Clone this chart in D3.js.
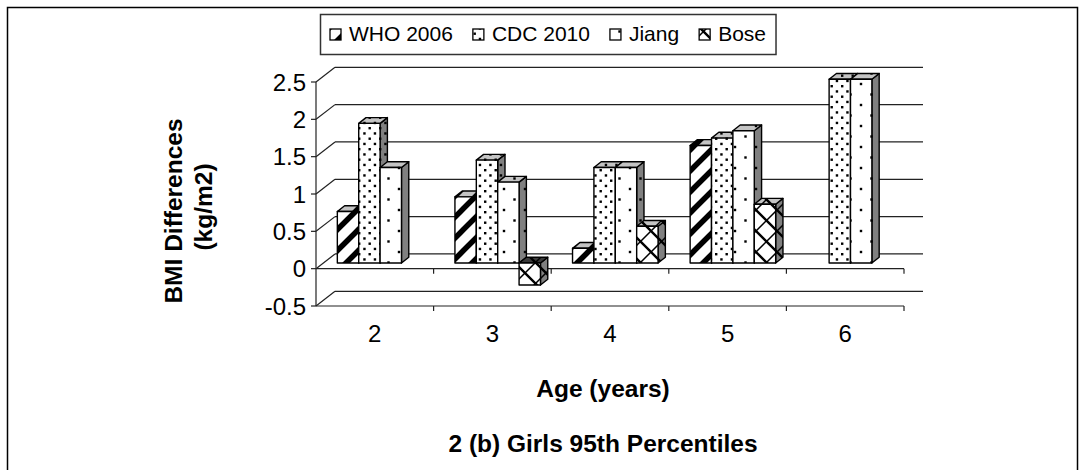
<!DOCTYPE html>
<html><head><meta charset="utf-8">
<script src="https://cdn.jsdelivr.net/npm/d3@7"></script>
<style>
html,body{margin:0;padding:0;background:#fff;}
svg{display:block;font-family:"Liberation Sans",Arial,Helvetica,sans-serif;}
</style>
</head><body>
<svg id="chart" width="1085" height="470"></svg>
<script>
// Age groups and BMI differences (kg/m2) at the 95th percentile, girls
const ages = ["2", "3", "4", "5", "6"];
const seriesNames = ["WHO 2006", "CDC 2010", "Jiang", "Bose"];
const who2006 = [0.7, 0.9, 0.2, 1.6, null];
const cdc2010 = [1.9, 1.4, 1.3, 1.7, 2.5];
const jiang   = [1.3, 1.1, 1.3, 1.8, 2.5];
const bose    = [null, -0.3, 0.5, 0.8, null];
const yTicks  = [-0.5, 0, 0.5, 1, 1.5, 2, 2.5];

const seriesValues = [who2006, cdc2010, jiang, bose];
const seriesKeys = ["who", "cdc", "jiang", "bose"];

const svg = d3.select("#chart");
const defs = svg.append("defs");

// ---- geometry of the 3-D box ----
const plotLeft = 316, plotRight = 904;
const wallDX = 19, wallDY = -14.7;          // depth of the walls/floor
const yAxis = d3.scaleLinear().domain([-0.5, 2.5]).range([306, 82]);
const yBar  = d3.scaleLinear().domain([0, 2.5]).range([263, 79.3]);
const xCat  = d3.scaleBand().domain(ages).range([plotLeft, plotRight]);
const xSer  = d3.scaleBand().domain(seriesNames).range([0, xCat.bandwidth()])
                .paddingInner(0).paddingOuter(0.75);
const barDX = 5.3;                          // bar front plane shift
const depthDX = 7.3, depthDY = -5.8;        // bar depth

// ---- fill patterns ----
const T = 21;
function pattern(id, bg, draw) {
  const p = defs.append("pattern").attr("id", id)
    .attr("patternUnits", "userSpaceOnUse").attr("width", T).attr("height", T);
  p.append("rect").attr("width", T).attr("height", T).attr("fill", bg);
  draw(p);
}
const drawers = {
  who: p => {
    let d = "";
    [0, T, 2 * T].forEach(c => { d += `M${-2},${c + 2}L${T + 2},${c - T - 2}`; });
    p.append("path").attr("d", d).attr("stroke", "#000").attr("stroke-width", 5.5).attr("fill", "none");
  },
  cdc: p => {
    const pts = [[1, 1], [11.5, 1], [6.25, 6.25], [16.75, 6.25], [1, 11.5], [11.5, 11.5], [6.25, 16.75], [16.75, 16.75]];
    pts.forEach(([x, y]) => p.append("rect").attr("x", x).attr("y", y).attr("width", 2.4).attr("height", 2.4).attr("fill", "#000"));
  },
  jiang: p => {
    [[-1.2, -1.2], [T - 1.2, -1.2], [-1.2, T - 1.2], [T - 1.2, T - 1.2], [T / 2 - 1.2, T / 2 - 1.2]]
      .forEach(([x, y]) => p.append("rect").attr("x", x).attr("y", y).attr("width", 2.4).attr("height", 2.4).attr("fill", "#000"));
  },
  bose: p => {
    let d1 = "", d2 = "";
    [-T, 0, T].forEach(c => { d1 += `M${c - 2},${-2}L${c + T + 2},${T + 2}`; });
    [0, T, 2 * T].forEach(c => { d2 += `M${-2},${c + 2}L${T + 2},${c - T - 2}`; });
    p.append("path").attr("d", d1).attr("stroke", "#000").attr("stroke-width", 2.4).attr("fill", "none");
    p.append("path").attr("d", d2).attr("stroke", "#000").attr("stroke-width", 1.5).attr("fill", "none");
  }
};
const faceBg = { front: "#ffffff", top: "#c4c4c4", side: "#808080", under: "#3a3a3a" };
seriesKeys.forEach(k => {
  Object.entries(faceBg).forEach(([face, bg]) => pattern(`${k}-${face}`, bg, drawers[k]));
});

// ---- outer frame ----
svg.append("rect").attr("x", 7.5).attr("y", 7.5).attr("width", 1070).attr("height", 480)
  .attr("fill", "none").attr("stroke", "#000").attr("stroke-width", 1.5);

// ---- walls, floor and gridlines ----
const grid = svg.append("g").attr("stroke", "#222").attr("stroke-width", 1.2).attr("fill", "none");
yTicks.forEach(v => {
  const yf = yAxis(v), yb = yf + wallDY;
  // back wall line
  grid.append("line").attr("x1", plotLeft + wallDX).attr("x2", plotRight + wallDX).attr("y1", yb).attr("y2", yb);
  // side wall diagonal
  grid.append("line").attr("x1", plotLeft).attr("y1", yf).attr("x2", plotLeft + wallDX).attr("y2", yb);
  // y-axis tick
  grid.append("line").attr("x1", plotLeft - 5).attr("x2", plotLeft).attr("y1", yf).attr("y2", yf);
});
// vertical value axis
grid.append("line").attr("x1", plotLeft).attr("x2", plotLeft).attr("y1", yAxis(2.5)).attr("y2", yAxis(-0.5));
// front edges of the category axis and of the floor, with tick marks
const catEdges = ages.map(a => xCat(a) + xCat.bandwidth());
[0, -0.5].forEach(v => {
  const y = yAxis(v);
  grid.append("line").attr("x1", plotLeft).attr("x2", plotRight).attr("y1", y).attr("y2", y);
  catEdges.forEach(x => grid.append("line").attr("x1", x).attr("x2", x).attr("y1", y).attr("y2", y + 5));
});

// ---- y tick labels ----
svg.append("g").selectAll("text").data(yTicks).join("text")
  .attr("x", 306).attr("y", d => yAxis(d)).attr("dy", "0.36em")
  .attr("text-anchor", "end").attr("font-size", 24).attr("fill", "#000")
  .text(d => String(d));

// ---- category labels ----
svg.append("g").selectAll("text").data(ages).join("text")
  .attr("x", d => xCat(d) + xCat.bandwidth() / 2).attr("y", 342)
  .attr("text-anchor", "middle").attr("font-size", 24).attr("fill", "#000")
  .text(d => d);

// ---- bars ----
const bars = svg.append("g").attr("stroke", "#000").attr("stroke-width", 1.4).attr("stroke-linejoin", "round");
const w = xSer.bandwidth();
ages.forEach((age, gi) => {
  seriesNames.forEach((name, si) => {
    const v = seriesValues[si][gi];
    if (v == null) return;
    const k = seriesKeys[si];
    const x0 = xCat(age) + xSer(name) + barDX, x1 = x0 + w;
    const yT = Math.min(yBar(v), yBar(0)), yB = Math.max(yBar(v), yBar(0));
    const g = bars.append("g");
    // side face
    g.append("polygon").attr("fill", `url(#${k}-side)`)
      .attr("points", [[x1, yT], [x1 + depthDX, yT + depthDY], [x1 + depthDX, yB + depthDY], [x1, yB]].join(" "));
    // top face
    g.append("polygon").attr("fill", `url(#${k}-${v < 0 ? "under" : "top"})`)
      .attr("points", [[x0, yT], [x0 + depthDX, yT + depthDY], [x1 + depthDX, yT + depthDY], [x1, yT]].join(" "));
    // front face
    g.append("rect").attr("x", x0).attr("y", yT).attr("width", w).attr("height", yB - yT)
      .attr("fill", `url(#${k}-front)`);
  });
});

// ---- legend ----
const legend = svg.append("g");
const legBox = legend.append("rect").attr("x", 320.5).attr("y", 14.5).attr("width", 455).attr("height", 40)
  .attr("fill", "#fff").attr("stroke", "#333").attr("stroke-width", 1.5);
let lx = 330;
seriesNames.forEach((name, i) => {
  legend.append("rect").attr("x", lx).attr("y", 29).attr("width", 11).attr("height", 11)
    .attr("fill", `url(#${seriesKeys[i]}-front)`).attr("stroke", "#000").attr("stroke-width", 1.3);
  const t = legend.append("text").attr("x", lx + 19).attr("y", 41.3)
    .attr("font-size", 21).attr("fill", "#000").text(name);
  lx += 19 + t.node().getComputedTextLength() + 20;
});
legBox.attr("width", lx - 20 + 10 - 320.5);

// ---- axis titles and chart title ----
svg.append("text").attr("transform", "translate(181.7,211) rotate(-90)")
  .attr("text-anchor", "middle").attr("font-size", 24.5).attr("font-weight", "bold").text("BMI Differences");
svg.append("text").attr("transform", "translate(211.5,207) rotate(-90)")
  .attr("text-anchor", "middle").attr("font-size", 24.5).attr("font-weight", "bold").text("(kg/m2)");
svg.append("text").attr("x", 603).attr("y", 397).attr("text-anchor", "middle")
  .attr("font-size", 24.5).attr("font-weight", "bold").text("Age (years)");
svg.append("text").attr("x", 603).attr("y", 452).attr("text-anchor", "middle")
  .attr("font-size", 24.5).attr("font-weight", "bold").text("2 (b) Girls 95th Percentiles");
</script>
</body></html>
